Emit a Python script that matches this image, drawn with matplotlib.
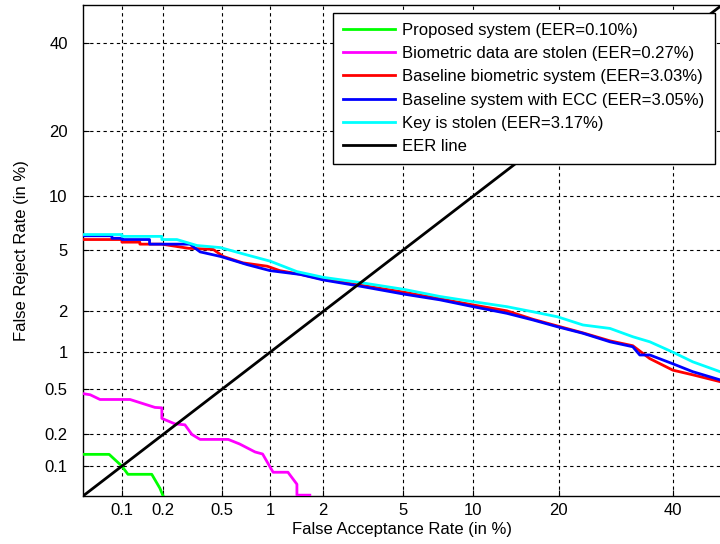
import matplotlib
matplotlib.use("Agg")
import matplotlib.pyplot as plt
from statistics import NormalDist

plt.rcParams['font.family'] = ['Liberation Sans', 'DejaVu Sans']

# ---- data (percent) ----
prop_far = [0.05, 0.08, 0.10, 0.111, 0.166, 0.19, 0.20]
prop_frr = [0.13, 0.13, 0.10, 0.083, 0.083, 0.06, 0.05]

bio_far = [0.05, 0.057, 0.068, 0.115, 0.175, 0.196, 0.196, 0.242, 0.284, 0.317, 0.36,
           0.55, 0.65, 0.81, 0.90, 1.04, 1.27, 1.43, 1.43, 1.69]
bio_frr = [0.46, 0.45, 0.41, 0.41, 0.35, 0.347, 0.28, 0.25, 0.245, 0.20, 0.18,
           0.18, 0.163, 0.137, 0.131, 0.087, 0.087, 0.066, 0.051, 0.051]

base_far = [0.05, 0.10, 0.10, 0.136, 0.136, 0.196, 0.30, 0.44, 0.51, 0.68, 0.96, 1.14,
            1.49, 2.0, 3.1, 5.1, 7.3, 10.0, 13.4, 16.5, 19.9, 23.7, 28.2, 32.3, 35.5,
            40.0, 44.0, 49.6]
base_frr = [5.8, 5.8, 5.6, 5.6, 5.45, 5.45, 5.15, 5.07, 4.6, 4.2, 4.0, 3.75,
            3.56, 3.3, 3.03, 2.71, 2.45, 2.22, 2.02, 1.76, 1.57, 1.40, 1.22, 1.12, 0.89,
            0.72, 0.66, 0.58]

ecc_far = [0.05, 0.084, 0.084, 0.10, 0.10, 0.16, 0.16, 0.307, 0.36, 0.49, 0.72, 1.0,
           1.49, 2.0, 3.1, 5.1, 7.3, 10.0, 13.4, 16.5, 19.9, 23.7, 28.2, 32.3, 33.6,
           35.5, 40.0, 44.0, 49.6]
ecc_frr = [6.1, 6.1, 5.9, 5.9, 5.8, 5.8, 5.45, 5.45, 4.9, 4.6, 4.1, 3.75,
           3.55, 3.27, 2.98, 2.63, 2.41, 2.16, 1.94, 1.74, 1.55, 1.39, 1.20, 1.10, 0.95,
           0.95, 0.81, 0.70, 0.60]

key_far = [0.05, 0.10, 0.10, 0.196, 0.196, 0.25, 0.343, 0.49, 0.72, 1.0, 1.43, 2.0,
           3.1, 5.1, 7.3, 10.0, 13.4, 16.5, 19.9, 23.7, 28.2, 32.3, 35.5, 40.0, 44.0,
           49.6]
key_frr = [6.2, 6.2, 6.05, 6.05, 5.8, 5.8, 5.35, 5.2, 4.7, 4.3, 3.7, 3.4,
           3.15, 2.83, 2.54, 2.34, 2.16, 1.99, 1.83, 1.60, 1.51, 1.31, 1.20, 1.0, 0.84,
           0.70]

eer_vals = [0.05, 50.0]

ticks = [0.1, 0.2, 0.5, 1, 2, 5, 10, 20, 40]
tick_labels = ['0.1', '0.2', '0.5', '1', '2', '5', '10', '20', '40']
lims = [0.05, 50.0]

series = [
    (prop_far, prop_frr, (0, 1, 0), 'Proposed system (EER=0.10%)'),
    (bio_far, bio_frr, (1, 0, 1), 'Biometric data are stolen (EER=0.27%)'),
    (base_far, base_frr, (1, 0, 0), 'Baseline biometric system (EER=3.03%)'),
    (ecc_far, ecc_frr, (0, 0, 1), 'Baseline system with ECC (EER=3.05%)'),
    (key_far, key_frr, (0, 1, 1), 'Key is stolen (EER=3.17%)'),
    (eer_vals, eer_vals, (0, 0, 0), 'EER line'),
]

nd = NormalDist()
def probit(vals):
    return [nd.inv_cdf(v / 100.0) for v in vals]

FS = 12

fig = plt.figure(figsize=(7.2, 5.44), dpi=100)
ax = fig.add_axes([83/720, 48/544, 639/720, 491/544])

for fx, fy, col, lab in series:
    ax.plot(probit(fx), probit(fy), color=col, lw=2.0, label=lab, zorder=3)

ax.set_xlim(probit(lims))
ax.set_ylim(probit(lims))
ax.set_xticks(probit(ticks))
ax.set_xticklabels(tick_labels)
ax.set_yticks(probit(ticks))
ax.set_yticklabels(tick_labels)
ax.tick_params(axis='x', direction='in', length=4, labelsize=FS, colors='black', pad=5)
ax.tick_params(axis='y', direction='in', length=4, labelsize=FS, colors='black', pad=11)
ax.grid(True, color='black', linestyle=(0, (3, 3)), linewidth=0.8)
for s in ax.spines.values():
    s.set_linewidth(1.0)

ax.set_xlabel('False Acceptance Rate (in %)', fontsize=FS, labelpad=3)
ax.set_ylabel('False Reject Rate (in %)', fontsize=FS, labelpad=11)

leg = ax.legend(loc='upper right', fontsize=FS, frameon=True, fancybox=False,
                edgecolor='black', framealpha=1, handlelength=3.1,
                handletextpad=0.45, labelspacing=0.5, borderaxespad=0.45,
                borderpad=0.6)
leg.get_frame().set_linewidth(1.0)

fig.savefig('out.png', dpi=100)
